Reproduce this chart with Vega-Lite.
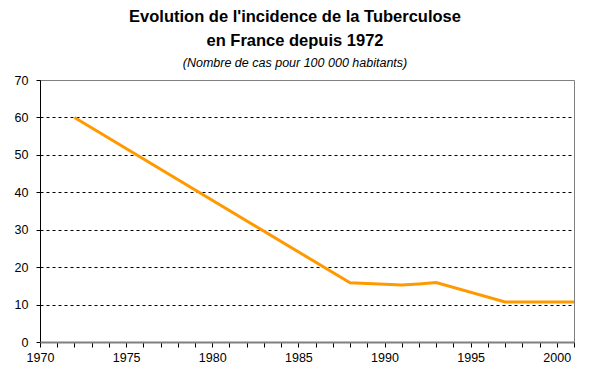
{
  "$schema": "https://vega.github.io/schema/vega-lite/v6.json",
  "autosize": {"type": "none"},
  "width": 534,
  "height": 262,
  "padding": {"left": 40, "top": 80, "right": 16, "bottom": 34},
  "background": "white",
  "config": {
    "view": {"stroke": "#808080", "strokeWidth": 1},
    "font": "Liberation Sans"
  },
  "title": {
    "text": ["Evolution de l'incidence de la Tuberculose", "en France depuis 1972"],
    "subtitle": "(Nombre de cas pour 100 000 habitants)",
    "anchor": "middle",
    "frame": "group",
    "dx": -12,
    "font": "Liberation Sans",
    "fontSize": 16.5,
    "fontWeight": "bold",
    "color": "black",
    "lineHeight": 24,
    "subtitleFont": "Liberation Sans",
    "subtitleFontSize": 12.5,
    "subtitleFontStyle": "italic",
    "subtitleColor": "black",
    "subtitlePadding": 7,
    "offset": 5
  },
  "data": {
    "values": [
      {"year": 1972, "value": 60},
      {"year": 1988, "value": 15.8},
      {"year": 1989, "value": 15.6},
      {"year": 1990, "value": 15.4},
      {"year": 1991, "value": 15.2},
      {"year": 1992, "value": 15.5},
      {"year": 1993, "value": 15.9},
      {"year": 1997, "value": 10.7},
      {"year": 2001, "value": 10.7}
    ]
  },
  "mark": {"type": "line", "color": "#FF9900", "strokeWidth": 3},
  "encoding": {
    "x": {
      "field": "year",
      "type": "quantitative",
      "scale": {"domain": [1970, 2001], "nice": false, "zero": false},
      "axis": {
        "title": null,
        "values": [1970,1971,1972,1973,1974,1975,1976,1977,1978,1979,1980,1981,1982,1983,1984,1985,1986,1987,1988,1989,1990,1991,1992,1993,1994,1995,1996,1997,1998,1999,2000,2001],
        "labelExpr": "datum.value % 5 == 0 ? datum.value : ''",
        "format": "d",
        "grid": false,
        "domainColor": "#808080",
        "domainWidth": 2,
        "tickColor": "black",
        "tickSize": 5,
        "labelFont": "Liberation Sans",
        "labelFontSize": 12.5,
        "labelColor": "black",
        "labelPadding": 4,
        "labelFlush": false,
        "labelOverlap": false,
        "zindex": 1
      }
    },
    "y": {
      "field": "value",
      "type": "quantitative",
      "scale": {"domain": [0, 70], "nice": false},
      "axis": {
        "title": null,
        "values": [0, 10, 20, 30, 40, 50, 60, 70],
        "grid": true,
        "gridColor": {"condition": {"test": "datum.value == 0 || datum.value == 70", "value": "transparent"}, "value": "black"},
        "gridDash": [3, 3],
        "gridWidth": 1,
        "domainColor": "black",
        "tickColor": "black",
        "tickSize": 4,
        "labelFont": "Liberation Sans",
        "labelFontSize": 12.5,
        "labelColor": "black",
        "labelPadding": 8,
        "labelFlush": false
      }
    }
  }
}
